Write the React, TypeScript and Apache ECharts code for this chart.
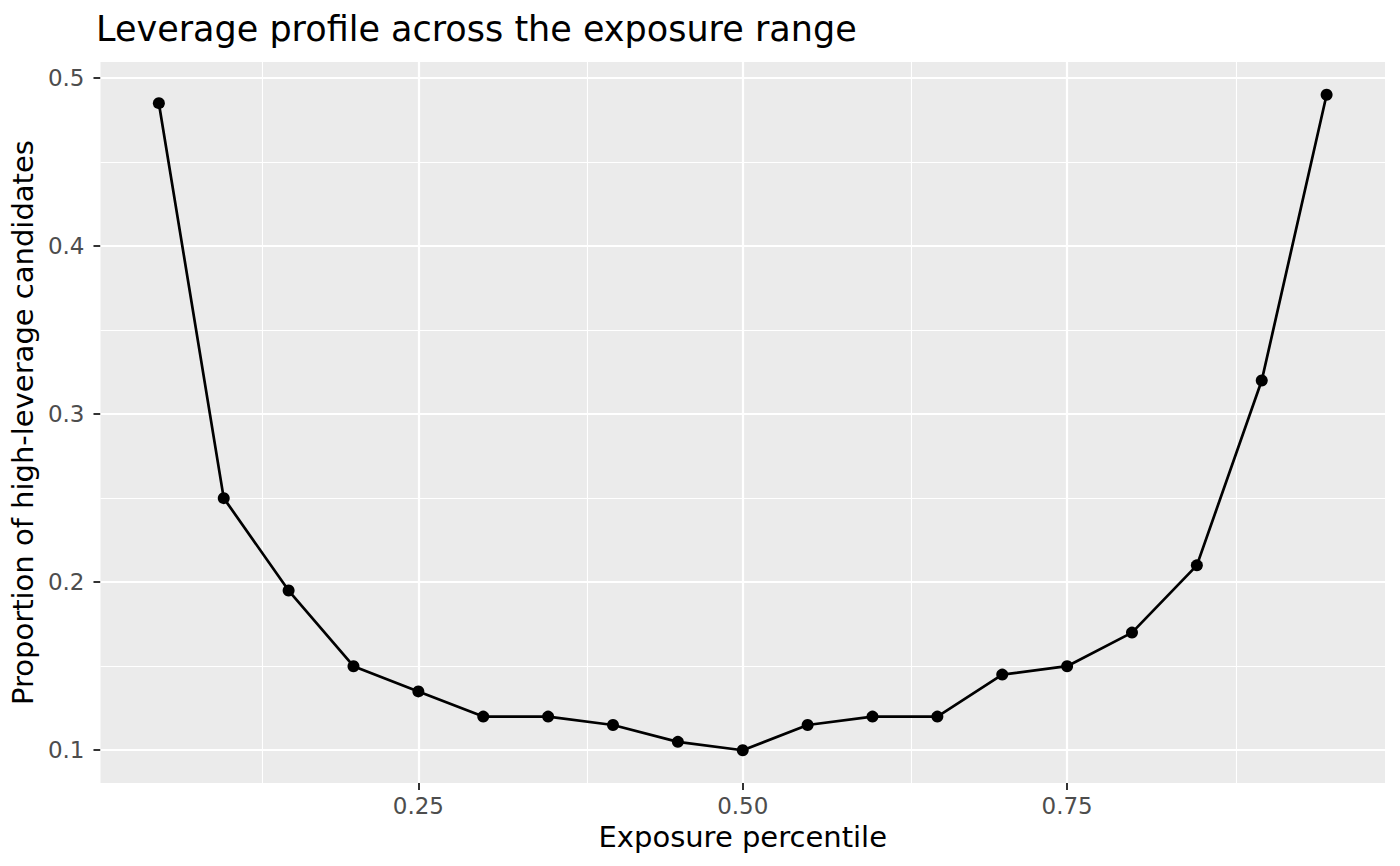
import React, { useEffect, useRef } from "react";
import * as echarts from "echarts";

const xValues = [0.05, 0.1, 0.15, 0.2, 0.25, 0.3, 0.35, 0.4, 0.45, 0.5, 0.55, 0.6, 0.65, 0.7, 0.75, 0.8, 0.85, 0.9, 0.95];
const yValues = [0.485, 0.25, 0.195, 0.15, 0.135, 0.12, 0.12, 0.115, 0.105, 0.1, 0.115, 0.12, 0.12, 0.145, 0.15, 0.17, 0.21, 0.32, 0.49];
const xMajor = [0.25, 0.5, 0.75];
const xMinor = [0.125, 0.375, 0.625, 0.875];
const yMajor = [0.1, 0.2, 0.3, 0.4, 0.5];
const yMinor = [0.15, 0.25, 0.35, 0.45];

const FONT = "DejaVu Sans";

export default function App() {
  const ref = useRef<HTMLDivElement>(null);
  useEffect(() => {
    if (!ref.current) return;
    const chart = echarts.init(ref.current, null, { renderer: "svg" });
    const gridLines = (vals: number[], axis: "xAxis" | "yAxis", width: number) =>
      vals.map((v) => ({ [axis]: v, lineStyle: { color: "#ffffff", width, type: "solid" } }));
    chart.setOption({
      animation: false,
      backgroundColor: "#ffffff",
      title: {
        text: "Leverage profile across the exposure range",
        left: 96,
        top: 11,
        padding: 0,
        textStyle: { fontFamily: FONT, fontSize: 35, fontWeight: "normal", color: "#000000" },
      },
      grid: { left: 99, right: 15, top: 62, bottom: 83, containLabel: false, backgroundColor: "#ebebeb", show: true, borderWidth: 0 },
      xAxis: {
        type: "value",
        min: 0.005,
        max: 0.995,
        name: "Exposure percentile",
        nameLocation: "middle",
        nameGap: 39,
        nameTextStyle: { fontFamily: FONT, fontSize: 29, color: "#000000" },
        axisLine: { show: false },
        axisTick: { show: true, customValues: xMajor, length: 7, lineStyle: { color: "#333333", width: 2 } },
        axisLabel: {
          customValues: xMajor,
          formatter: (v: number) => v.toFixed(2),
          fontFamily: FONT,
          fontSize: 23,
          color: "#4d4d4d",
          margin: 11,
        },
        splitLine: { show: false },
      },
      yAxis: {
        type: "value",
        min: 0.0805,
        max: 0.5095,
        name: "Proportion of high-leverage candidates",
        nameLocation: "middle",
        nameGap: 56,
        nameTextStyle: { fontFamily: FONT, fontSize: 29, color: "#000000" },
        axisLine: { show: false },
        axisTick: { show: true, customValues: yMajor, length: 7, lineStyle: { color: "#333333", width: 2 } },
        axisLabel: {
          customValues: yMajor,
          formatter: (v: number) => v.toFixed(1),
          fontFamily: FONT,
          fontSize: 23,
          color: "#4d4d4d",
          margin: 16,
        },
        splitLine: { show: false },
      },
      series: [
        {
          type: "line",
          data: [],
          z: 1,
          silent: true,
          markLine: {
            silent: true,
            symbol: "none",
            label: { show: false },
            animation: false,
            data: [
              ...gridLines(xMinor, "xAxis", 1.1),
              ...gridLines(yMinor, "yAxis", 1.1),
              ...gridLines(xMajor, "xAxis", 2.2),
              ...gridLines(yMajor, "yAxis", 2.2),
            ],
          },
        },
        {
          type: "line",
          z: 5,
          data: xValues.map((x, i) => [x, yValues[i]]),
          symbol: "circle",
          symbolSize: 12,
          showSymbol: true,
          itemStyle: { color: "#000000" },
          lineStyle: { color: "#000000", width: 2.7 },
        },
      ],
    });
    return () => chart.dispose();
  }, []);
  return <div ref={ref} style={{ position: "fixed", left: 0, top: 0, width: 1400, height: 866 }} />;
}
